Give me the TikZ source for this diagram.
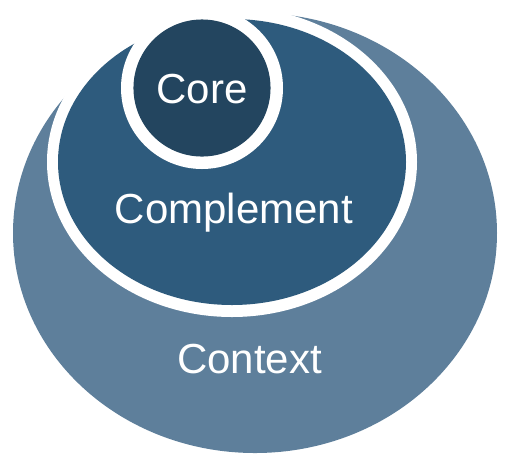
\documentclass[tikz,border=0pt]{standalone}
\usepackage{fontspec}
\setmainfont{Liberation Sans}
\definecolor{ctxcol}{HTML}{5E7F9B}
\definecolor{cmpcol}{HTML}{2E5B7D}
\definecolor{corecol}{HTML}{23455F}
\begin{document}
\begin{tikzpicture}[
  lbl/.style={text=white, anchor=base, inner sep=0pt, font=\fontsize{31.5pt}{36pt}\selectfont}
]
\useasboundingbox (0pt,0pt) rectangle (380.25pt,-346.5pt);
% Context
\fill[ctxcol] (191.25pt,-174.75pt) ellipse [x radius=181.5pt, y radius=165pt];
% Complement with white ring
\fill[white] (174pt,-121.5pt) ellipse [x radius=138.75pt, y radius=116.25pt];
\fill[cmpcol] (174pt,-121.5pt) ellipse [x radius=130.5pt, y radius=107.25pt];
% Core with white ring
\fill[white] (151.5pt,-66pt) circle [radius=60.75pt];
\fill[corecol] (151.5pt,-66pt) circle [radius=51.4pt];
% Labels
\node[lbl] (core) at (151.5pt,-77.25pt) {Core};
\node[lbl] (complement) at (175.5pt,-167.25pt) {Complement};
\node[lbl] (context) at (187.1pt,-279.75pt) {Context};
\end{tikzpicture}
\end{document}
